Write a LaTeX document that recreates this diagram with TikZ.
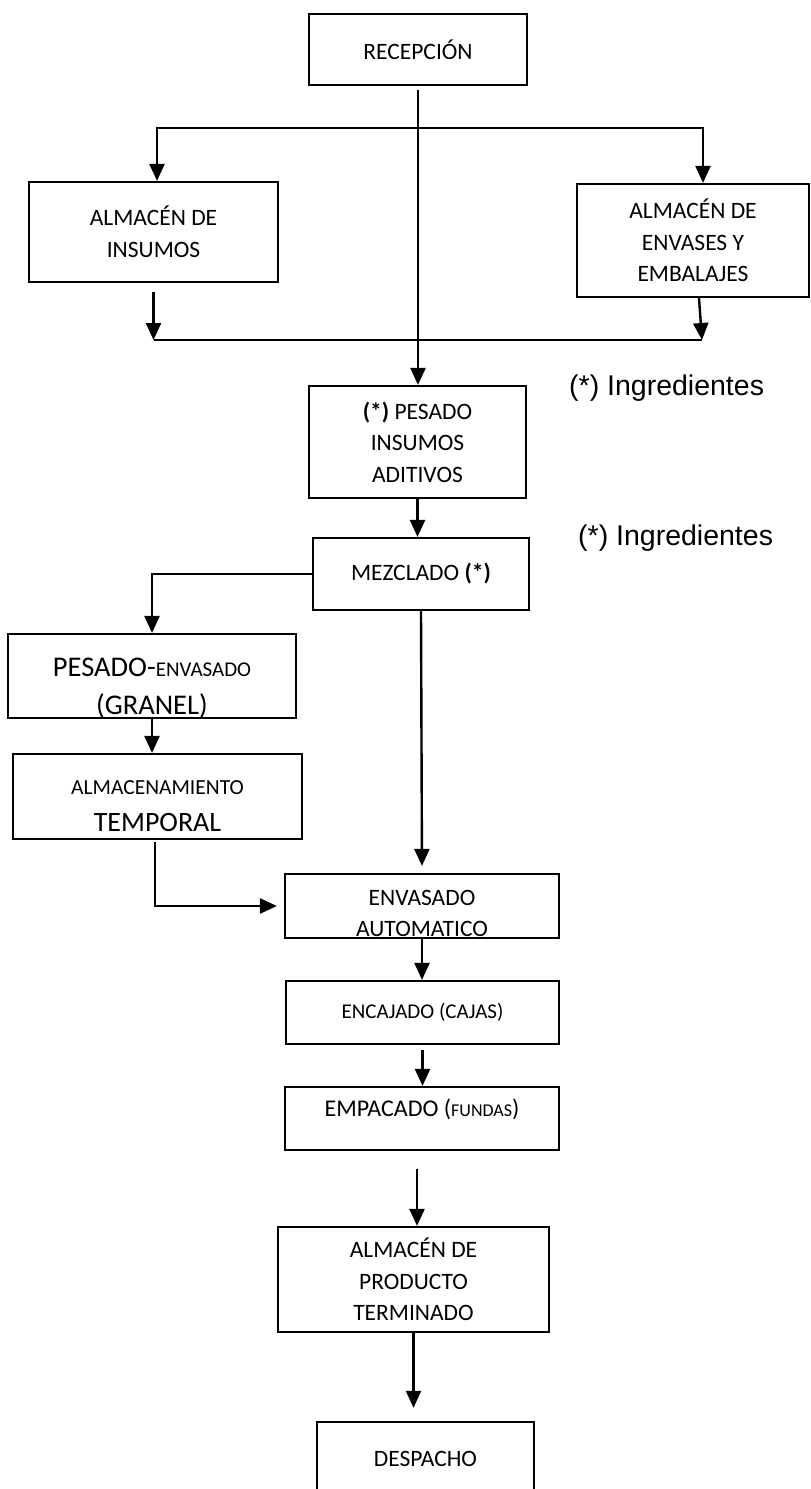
\documentclass[tikz,border=0pt]{standalone}
\usepackage{fontspec}
\setmainfont{Carlito}
\newfontfamily\notefont{Liberation Sans}
\usetikzlibrary{arrows.meta}
\newcommand{\setfs}[2]{\fontsize{#1}{#2}\selectfont}
% invisible strut that lowers the text block inside a box
\newcommand{\lift}[1]{\rule{0pt}{#1}}

\begin{document}
\begin{tikzpicture}[x=1pt,y=-1pt,
  box/.style={draw, line width=2.2pt, inner sep=0pt, align=center,
              font=\setfs{23.5}{31.5}},
  tip/.tip={Triangle[length=17pt,width=15pt]},
  flow/.style={line width=2.4pt, -tip},
  link/.style={line width=2.4pt},
  note/.style={font=\notefont\setfs{28.5}{33}, anchor=base west, inner sep=0pt}]

\useasboundingbox (0,0) rectangle (811,1489);
\clip (0,0) rectangle (811,1489);

% process boxes
\node[box, minimum width=218pt, minimum height=71pt] (recepcion) at (418,49.5) {RECEPCIÓN};
\node[box, minimum width=249pt, minimum height=100pt] (insumos) at (153.5,232) {ALMACÉN DE\\INSUMOS};
\node[box, minimum width=232pt, minimum height=113pt] (envases) at (693,240.5) {ALMACÉN DE\\ENVASES Y\\EMBALAJES};
\node[box, minimum width=217pt, minimum height=112pt] (pesado) at (417.5,442) {{\bfseries(*)} PESADO\\INSUMOS\\ADITIVOS};
\node[box, minimum width=216pt, minimum height=72pt] (mezclado) at (421,574) {MEZCLADO {\bfseries(*)}};
\node[box, minimum width=288pt, minimum height=84pt, font=\setfs{28.5}{38}] (granel) at (152,676)
  {\lift{42pt}PESADO-{\setfs{21}{38}ENVASADO}\\(GRANEL)};
\node[box, minimum width=289pt, minimum height=85pt, font=\setfs{28}{37}] (temporal) at (157.5,796.5)
  {\lift{34pt}{\setfs{21.5}{37}ALMACENAMIENTO}\\TEMPORAL};
\node[box, minimum width=274pt, minimum height=64pt] (envasado) at (422,906) {\lift{30pt}ENVASADO\\AUTOMATICO};
\node[box, minimum width=273pt, minimum height=63pt, font=\setfs{21}{28}] (encajado) at (422.5,1012.5) {ENCAJADO (CAJAS)};
\node[box, minimum width=274pt, minimum height=63pt, font=\setfs{24}{31}] (empacado) at (422,1118.5)
  {\lift{26pt}EMPACADO ({\setfs{18}{31}FUNDAS})\\\mbox{}};
\node[box, minimum width=271pt, minimum height=105pt] (producto) at (413.5,1279.5) {ALMACÉN DE\\PRODUCTO\\TERMINADO};
\node[inner sep=0pt, minimum width=217pt, minimum height=73pt, font=\setfs{23.5}{31.5}] (despacho) at (425.5,1458.5) {DESPACHO};
\draw[line width=2.2pt] (despacho.south west) -- (despacho.north west) -- (despacho.north east) -- (despacho.south east);

% side notes
\node[note] (nota1) at (569,395) {(*) Ingredientes};
\node[note] (nota2) at (578,545) {(*) Ingredientes};

% branch from reception to both warehouses
\coordinate (tl) at (157,128);
\coordinate (tr) at (703,128);
\draw[link, tip-tip] (tl |- insumos.north) -- (tl) -- (tr) -- (tr |- envases.north);

% warehouses join the main line
\coordinate (bl) at (153.5,340);
\coordinate (br) at (702,340);
\draw[link] (bl) -- (br);
\draw[flow] ([yshift=-9pt]insumos.south) -- (bl);
\draw[flow] ([xshift=6pt]envases.south) -- (br);

% main line
\draw[flow] ([yshift=-4pt]recepcion.south) -- (recepcion.south |- pesado.north);
\draw[flow] (pesado.south) -- (pesado.south |- mezclado.north);

% bulk branch
\draw[flow] (mezclado.west) -| (granel.north);
\draw[flow] (granel.south) -- (granel.south |- temporal.north);
\draw[flow, shorten >=7pt] ([xshift=-2.5pt,yshift=-2pt]temporal.south) |- (envasado.west);

% automatic packing line
\draw[flow, shorten >=7pt] (mezclado.south) -- (envasado.north);
\draw[flow] (envasado.south) -- (envasado.south |- encajado.north);
\draw[flow] ([yshift=-5pt]encajado.south) -- (encajado.south |- empacado.north);
\coordinate (e1) at ([xshift=-5pt,yshift=-18pt]empacado.south);
\draw[flow] (e1) -- (e1 |- producto.north);
\draw[flow, shorten >=14pt] (producto.south) -- (producto.south |- despacho.north);
\end{tikzpicture}
\end{document}
